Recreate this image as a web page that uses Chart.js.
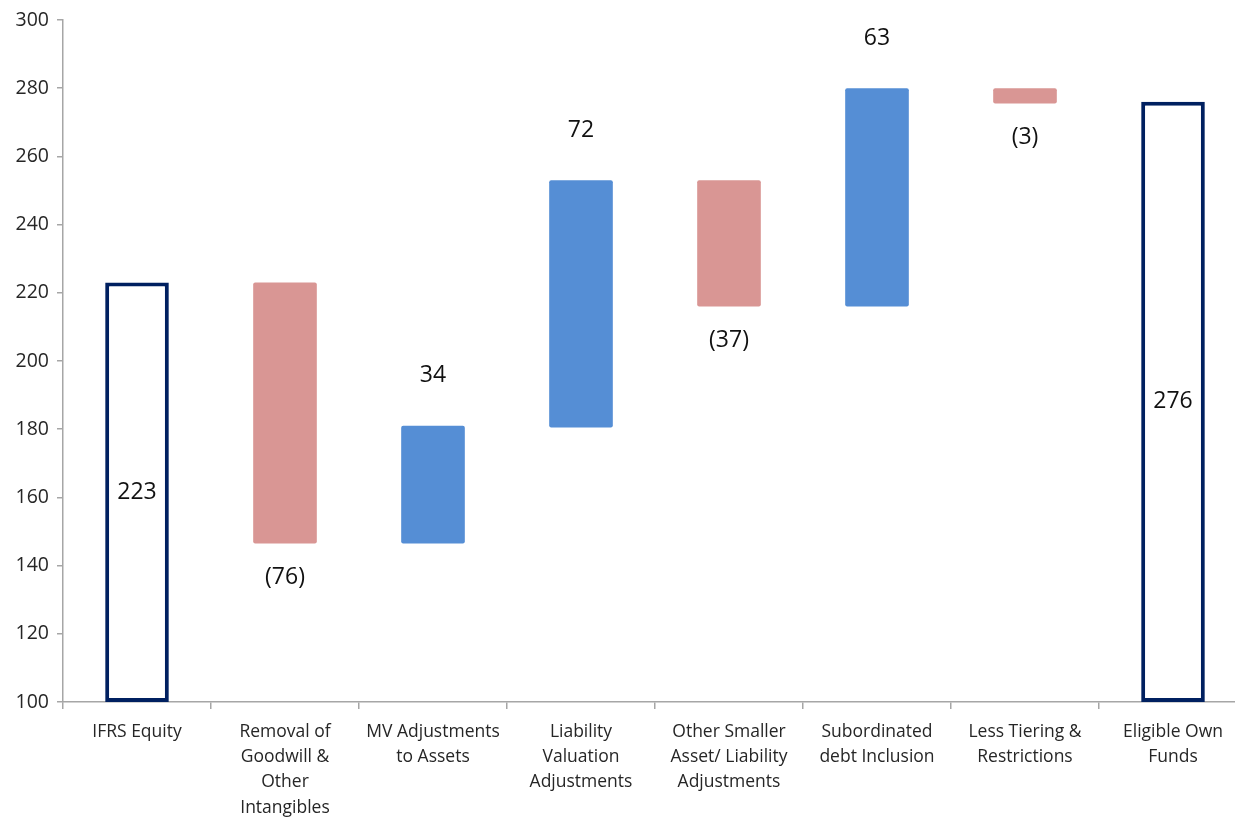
<!DOCTYPE html>
<html>
<head>
<meta charset="utf-8">
<script src="https://cdn.jsdelivr.net/npm/chart.js@4/dist/chart.umd.min.js"></script>
<style>
  html, body { margin: 0; padding: 0; background: #fff; overflow: hidden; }
  #wrap { width: 1247px; height: 818px; }
</style>
</head>
<body>
<div id="wrap"><canvas id="c" width="1247" height="818"></canvas></div>
<script>
/* -------- DATA -------- */
const categories = [
    ["IFRS Equity"],
    ["Removal of", "Goodwill &", "Other", "Intangibles"],
    ["MV Adjustments", "to Assets"],
    ["Liability", "Valuation", "Adjustments"],
    ["Other Smaller", "Asset/ Liability", "Adjustments"],
    ["Subordinated", "debt Inclusion"],
    ["Less Tiering &", "Restrictions"],
    ["Eligible Own", "Funds"]
];
const barLow  = [100, 146.5, 146.5, 180.5, 216, 216, 275.5, 100];
const barHigh = [223, 223, 181, 253, 253, 280, 280, 276];
const labels  = ["223", "(76)", "34", "72", "(37)", "63", "(3)", "276"];
const kinds   = ["total", "down", "up", "up", "down", "up", "down", "total"];
const yTicks  = [100, 120, 140, 160, 180, 200, 220, 240, 260, 280, 300];

const NAVY = "#002060", BLUE = "#558ED5", PINK = "#D99694";

const floating = barLow.map((lo, i) => [lo, barHigh[i]]);

/* -------- LABEL PLUGIN -------- */
const valueLabels = {
    id: "valueLabels",
    afterDatasetsDraw(chart) {
        const ctx = chart.ctx;
        const meta = chart.getDatasetMeta(0);
        const y = chart.scales.y;
        ctx.save();
        ctx.font = "23px 'Open Sans', sans-serif";
        ctx.fillStyle = "#111";
        ctx.textAlign = "center";
        ctx.textBaseline = "middle";
        meta.data.forEach((bar, i) => {
            let ty;
            if (kinds[i] === "total") {
                ty = (y.getPixelForValue(barLow[i]) + y.getPixelForValue(barHigh[i])) / 2;
            } else if (kinds[i] === "up") {
                ty = y.getPixelForValue(barHigh[i]) - 50;
            } else {
                ty = y.getPixelForValue(barLow[i]) + 34;
            }
            ctx.fillText(labels[i], bar.x, ty);
        });
        ctx.restore();
    }
};

/* -------- CHART -------- */
new Chart(document.getElementById("c"), {
    type: "bar",
    data: {
        labels: categories,
        datasets: [{
            data: floating,
            backgroundColor: kinds.map(k => k === "total" ? "#ffffff" : (k === "up" ? BLUE : PINK)),
            borderColor: kinds.map(k => k === "total" ? NAVY : "rgba(0,0,0,0)"),
            borderWidth: kinds.map(k => k === "total" ? 4 : 0),
            borderSkipped: false,
            borderRadius: kinds.map(k => k === "total" ? 0 : 2),
            barPercentage: 1,
            categoryPercentage: 0.43
        }]
    },
    options: {
        responsive: false,
        animation: false,
        layout: { padding: { top: 20, left: 0, right: 0, bottom: 0 } },
        plugins: { legend: { display: false }, tooltip: { enabled: false } },
        scales: {
            x: {
                afterFit: s => { s.height = 116; },
                border: { color: "#a6a6a6", width: 1.5 },
                grid: { offset: true, drawOnChartArea: false, tickLength: 7, color: "#a6a6a6", lineWidth: 1.5 },
                ticks: {
                    color: "#262626",
                    font: { family: "'Open Sans', sans-serif", size: 17.5, lineHeight: 1.45 },
                    maxRotation: 0,
                    autoSkip: false,
                    padding: 10
                }
            },
            y: {
                min: 100,
                max: 300,
                afterFit: s => { s.width = 63; },
                afterBuildTicks: s => { s.ticks = yTicks.map(v => ({ value: v })); },
                border: { color: "#a6a6a6", width: 1.5 },
                grid: { drawOnChartArea: false, tickLength: 6, color: "#a6a6a6", lineWidth: 1.5 },
                ticks: {
                    color: "#262626",
                    font: { family: "'Open Sans', sans-serif", size: 19.5 },
                    padding: 8
                }
            }
        }
    },
    plugins: [valueLabels]
});
</script>
</body>
</html>
